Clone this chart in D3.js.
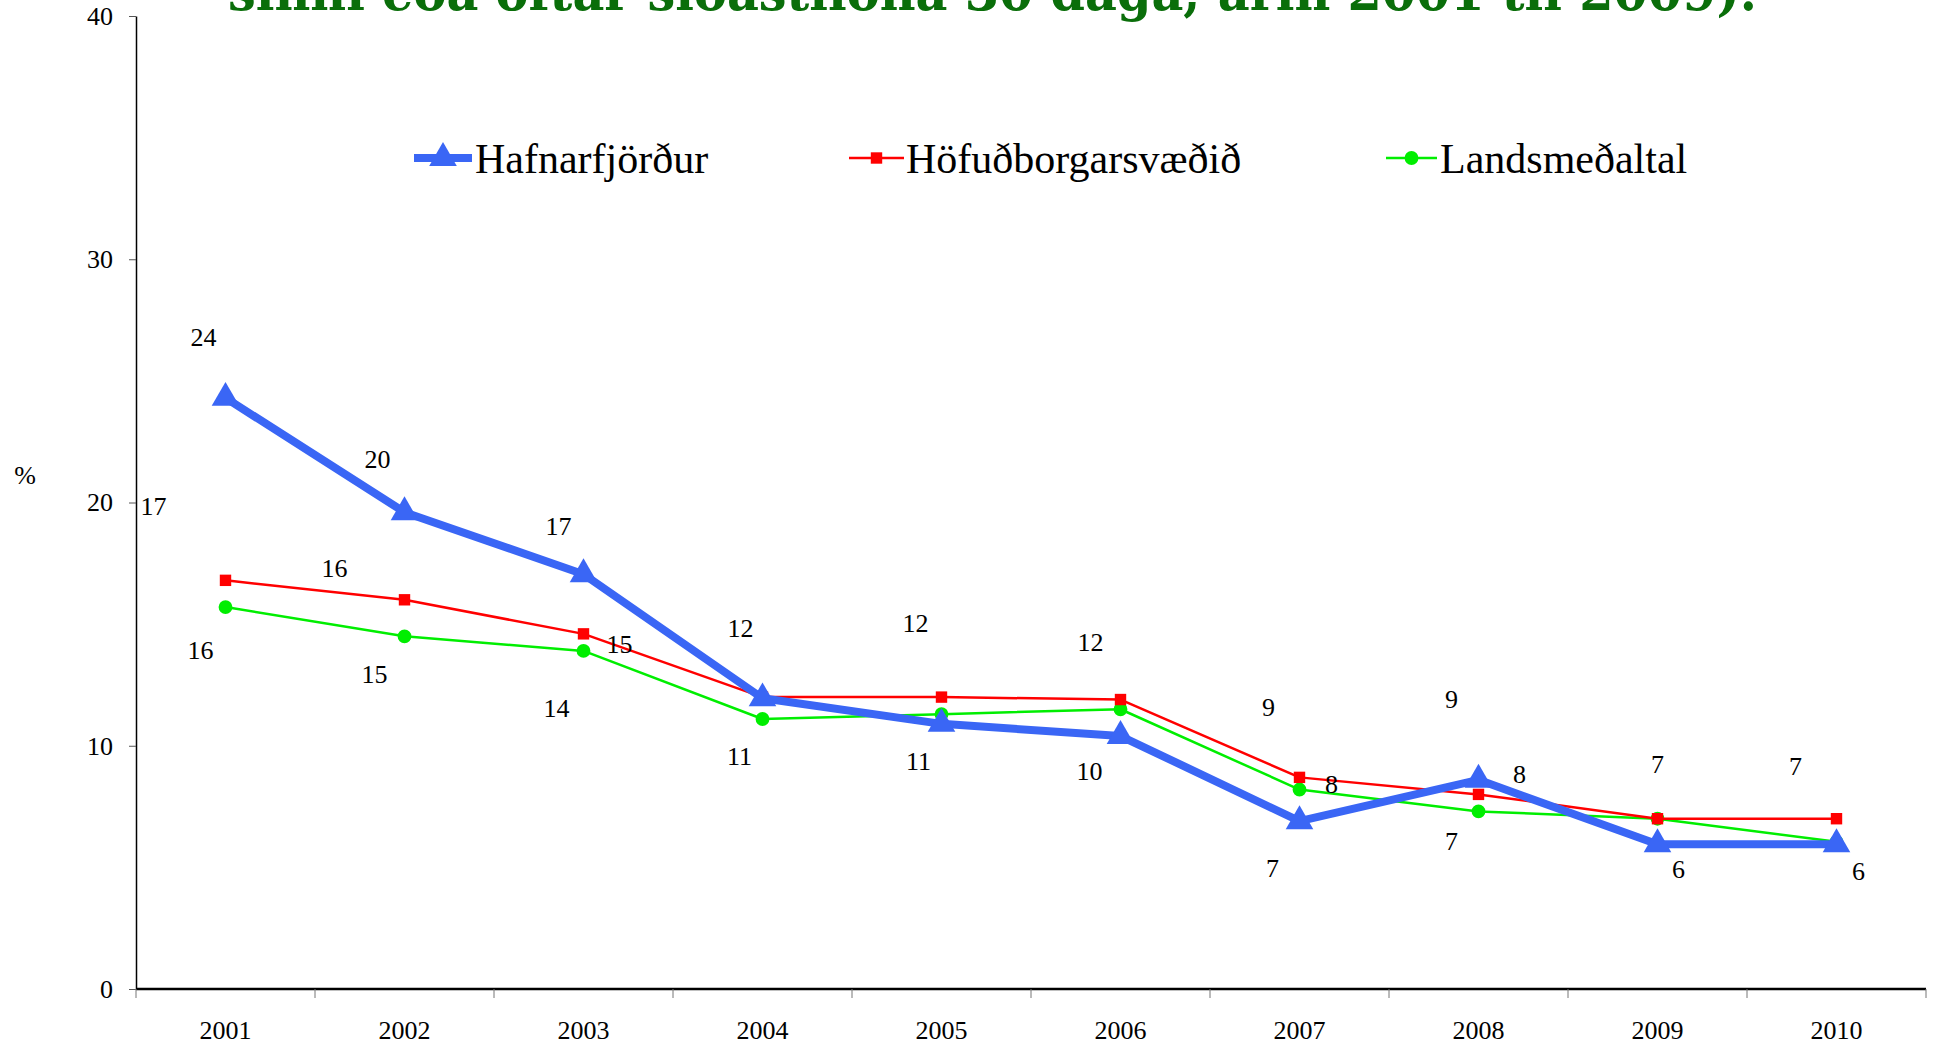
<!DOCTYPE html>
<html>
<head>
    <meta charset="UTF-8" />
    <title>Hafnarfjörður</title>
    <script src="https://cdn.jsdelivr.net/npm/d3@7"></script>
    <style>
        body { margin: 0; background: #fff; }
        svg text { font-family: "Liberation Serif", "Times New Roman", serif; fill: #000; }
    </style>
</head>
<body>
<div id="chart"></div>
<script type="text/javascript">
    /**
     * data
     */
    var years = ["2001", "2002", "2003", "2004", "2005", "2006", "2007", "2008", "2009", "2010"];
    var hafnarfjordur = [24.3, 19.6, 17.05, 11.95, 10.9, 10.4, 6.9, 8.6, 5.95, 5.95];
    var hofudborg = [16.8, 16.0, 14.6, 12.0, 12.0, 11.9, 8.7, 8.0, 7.0, 7.0];
    var landsmedaltal = [15.7, 14.5, 13.9, 11.1, 11.3, 11.5, 8.2, 7.3, 7.0, 6.05];
    var yTicks = [0, 10, 20, 30, 40];
    var seriesNames = ["Hafnarfjörður", "Höfuðborgarsvæðið", "Landsmeðaltal"];
    var titleText = "sinni eða oftar síðastliðna 30 daga, árin 2001 til 2009).";

    // label offsets (px) from each point, null = no label shown
    var blueLabelPos = [[-22,-60],[-27,-53],[-25,-48],[-22,-70],[-23,38],[-31,35],[-27,47],[-27,-80],[21,25],[22,27]];
    var redLabelPos = [[-72,-74],[-70,-31],[36,11],null,[-26,-74],[-30,-57],[-31,-70],[41,-20],[0,-54],[-41,-52]];
    var greenLabelPos = [[-25,43],[-30,38],[-27,58],[-23,38],null,null,[32,-5],[-27,30],null,null];

    var W = 1933, H = 1047;
    var svg = d3.select("#chart").append("svg").attr("width", W).attr("height", H);

    var x = d3.scaleBand().domain(years).range([136, 1926]);
    var y = d3.scaleLinear().domain([0, 40]).range([989, 16]);
    function cx(i) { return x(years[i]) + x.bandwidth() / 2; }

    // title (cut off at top)
    svg.append("text")
        .attr("x", 228).attr("y", 10)
        .attr("textLength", 1529).attr("lengthAdjust", "spacingAndGlyphs")
        .style("font-family", "'DejaVu Serif', serif")
        .style("font-size", "52px").style("font-weight", "bold")
        .style("fill", "#0a6e0a")
        .text(titleText);

    // y axis
    var yAxis = svg.append("g").attr("transform", "translate(136,0)")
        .call(d3.axisLeft(y).tickValues(yTicks).tickSize(7).tickPadding(16).tickSizeOuter(0));
    yAxis.select(".domain").attr("stroke", "#000").attr("stroke-width", 1.5);
    yAxis.selectAll(".tick line").attr("stroke", "#555");
    yAxis.selectAll("text").style("font-size", "26px").style("font-family", "'Liberation Serif', serif");

    svg.append("text").attr("x", 25).attr("y", 484).attr("text-anchor", "middle")
        .style("font-size", "26px").text("%");

    // x axis
    svg.append("line").attr("x1", 136).attr("x2", 1926).attr("y1", y(0)).attr("y2", y(0))
        .attr("stroke", "#000").attr("stroke-width", 2.5);
    svg.selectAll(".xtick").data(years.concat(["end"])).enter().append("line")
        .attr("x1", function (d) { return d === "end" ? 1926 : x(d); })
        .attr("x2", function (d) { return d === "end" ? 1926 : x(d); })
        .attr("y1", y(0)).attr("y2", y(0) + 9)
        .attr("stroke", "#777").attr("stroke-width", 1);
    svg.selectAll(".xlab").data(years).enter().append("text")
        .attr("x", function (d, i) { return cx(i); }).attr("y", 1039)
        .attr("text-anchor", "middle").style("font-size", "26px")
        .text(function (d) { return d; });

    // series
    var series = [
        { name: seriesNames[0], values: hafnarfjordur, color: "#3a66f5", width: 8, shape: d3.symbolTriangle, size: 330, labels: blueLabelPos },
        { name: seriesNames[1], values: hofudborg, color: "#ff0000", width: 2.5, shape: d3.symbolSquare, size: 130, labels: redLabelPos },
        { name: seriesNames[2], values: landsmedaltal, color: "#00ee00", width: 2.5, shape: d3.symbolCircle, size: 150, labels: greenLabelPos }
    ];

    var line = d3.line().x(function (d, i) { return cx(i); }).y(function (d) { return y(d); });

    // draw green, red, then blue on top
    [series[2], series[1], series[0]].forEach(function (s) {
        svg.append("path").datum(s.values).attr("d", line)
            .attr("fill", "none").attr("stroke", s.color).attr("stroke-width", s.width)
            .attr("stroke-linejoin", "round");
        svg.selectAll(null).data(s.values).enter().append("path")
            .attr("d", d3.symbol().type(s.shape).size(s.size))
            .attr("transform", function (d, i) { return "translate(" + cx(i) + "," + y(d) + ")"; })
            .attr("fill", s.color);
    });

    // data labels
    series.forEach(function (s) {
        s.values.forEach(function (v, i) {
            var p = s.labels[i];
            if (!p) return;
            svg.append("text")
                .attr("x", cx(i) + p[0]).attr("y", y(v) + p[1])
                .attr("text-anchor", "middle").attr("dominant-baseline", "central")
                .style("font-size", "26px")
                .text(Math.round(v));
        });
    });

    // legend
    var legendPos = [[414, 472, 475], [849, 904, 906], [1386, 1437, 1440]];
    series.forEach(function (s, k) {
        var lp = legendPos[k], ly = 158;
        var g = svg.append("g");
        g.append("line").attr("x1", lp[0]).attr("x2", lp[1]).attr("y1", ly).attr("y2", ly)
            .attr("stroke", s.color).attr("stroke-width", s.width);
        g.append("path").attr("d", d3.symbol().type(s.shape).size(s.size))
            .attr("transform", "translate(" + ((lp[0] + lp[1]) / 2) + "," + ly + ")")
            .attr("fill", s.color);
        g.append("text").attr("x", lp[2]).attr("y", ly + 15)
            .style("font-size", "42px").text(s.name);
    });
</script>
</body>
</html>
